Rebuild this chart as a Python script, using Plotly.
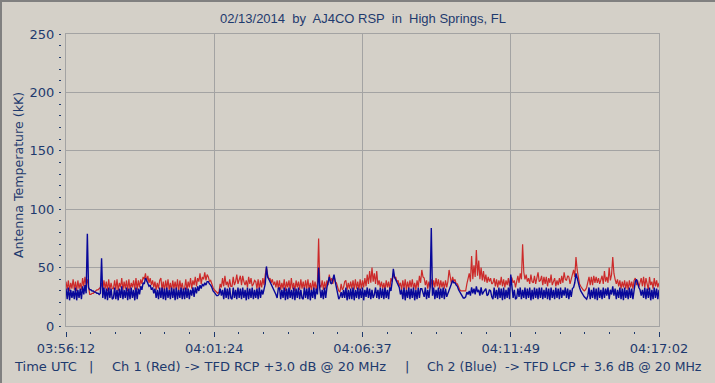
import plotly.graph_objects as go

# ---- data ----
sample_step_s = 2.5
tick_labels = ["03:56:12", "04:01:24", "04:06:37", "04:11:49", "04:17:02"]
tick_seconds = [0, 312.5, 625, 937.5, 1250]

ch1_red = [
    38,31,39,30,37,32,40,31,38,30,39,32,37,31,41,34,42,35,40,33,
    27,27,28,28,29,30,31,31,32,33,37,31,39,32,38,30,40,31,37,32,
    32,39,31,40,30,37,33,41,31,38,32,39,30,40,31,37,33,39,31,41,
    31,39,33,40,36,42,40,45,38,43,37,41,35,39,33,38,31,37,32,39,
    41,31,38,30,39,32,40,31,37,30,39,32,38,31,40,30,39,32,37,31,
    32,40,31,38,33,41,32,39,35,42,34,41,38,45,36,42,40,46,39,44,
    42,38,39,35,33,31,30,29,28,29,36,33,41,34,43,35,38,33,40,34,
    34,42,35,38,44,36,39,43,35,43,38,35,39,33,42,36,41,34,36,39,
    38,32,40,31,39,33,41,35,44,50,44,40,41,37,40,35,38,33,39,32,
    39,31,37,32,40,30,38,33,39,31,41,32,37,30,39,33,38,31,40,32,
    38,31,39,32,40,31,37,30,39,32,38,31,37,75,35,33,39,31,38,32,
    39,35,44,38,41,36,43,38,37,32,30,29,36,31,33,38,39,31,37,32,
    38,32,39,31,40,32,38,31,40,32,39,33,41,34,44,36,47,37,50,38,
    45,36,47,35,39,33,38,32,37,31,39,33,38,31,41,38,45,41,42,38,
    39,34,37,31,39,32,40,31,38,32,39,33,40,32,37,31,39,33,43,37,
    48,42,41,35,39,32,38,33,40,32,39,33,41,34,40,32,39,33,38,32,
    39,33,38,48,41,36,42,38,40,36,36,33,31,30,30,30,30,30,36,41,
    45,38,60,40,52,42,65,43,56,40,50,39,47,38,44,37,42,38,41,36,
    37,41,34,40,33,39,35,42,34,40,33,39,35,41,34,42,41,37,39,33,
    37,43,37,45,40,70,46,40,44,38,41,36,44,38,37,43,36,42,46,38,
    39,43,35,42,36,42,34,41,37,44,35,38,41,34,39,35,41,36,43,37,
    46,40,39,43,42,36,40,44,48,42,59,48,42,36,34,32,31,30,31,33,
    37,42,35,42,35,43,37,42,37,41,36,39,43,36,47,38,42,37,50,39,
    44,59,45,40,36,40,34,39,32,38,33,39,32,38,31,39,33,38,32,39,
    41,35,39,33,37,41,34,42,33,41,36,31,42,35,38,32,41,34,39,33,
    37,
]

ch2_blue = [
    32,23,33,22,31,24,30,23,33,22,31,24,32,23,34,27,35,28,79,33,
    31,31,30,30,29,29,28,28,27,28,58,24,33,23,32,22,33,24,32,23,
    24,33,23,31,22,32,24,34,23,31,24,33,22,32,23,33,24,31,22,33,
    23,32,27,34,31,37,36,41,39,36,34,35,31,33,28,32,24,31,23,33,
    24,33,23,32,22,33,24,31,23,33,24,32,22,33,23,31,24,33,23,32,
    23,33,24,32,23,31,26,33,25,33,28,34,30,35,32,36,34,37,35,38,
    38,36,35,33,30,29,27,26,26,27,32,26,31,23,33,24,32,23,33,24,
    23,33,24,31,23,33,24,32,23,33,24,31,22,33,23,32,24,33,23,31,
    24,32,23,33,24,31,27,33,36,51,42,40,38,36,34,32,30,27,24,32,
    33,23,31,24,33,22,32,23,33,24,31,23,33,22,32,24,33,23,31,24,
    23,33,24,32,23,33,22,31,24,33,23,32,27,50,32,24,31,23,33,24,
    33,38,42,37,36,40,44,38,33,28,23,25,29,24,31,24,33,22,31,23,
    32,23,33,22,31,24,33,23,32,24,33,22,31,25,33,24,32,23,31,24,
    27,33,24,31,23,33,24,32,23,33,24,31,23,33,30,38,49,42,40,37,
    36,33,27,31,23,33,22,31,24,33,23,32,24,33,22,31,23,33,24,32,
    32,27,25,33,23,31,24,33,84,26,33,23,31,24,33,23,32,24,33,23,
    32,25,28,31,33,36,39,37,37,35,34,31,29,27,25,24,24,25,29,27,
    30,26,33,28,32,27,34,29,31,26,33,27,29,31,32,26,27,31,30,25,
    23,33,24,31,23,33,24,32,22,33,23,31,24,33,23,44,32,24,31,23,
    24,32,25,33,23,31,24,33,23,32,24,33,22,31,23,33,24,32,23,33,
    24,33,23,31,24,33,23,32,22,33,24,31,23,33,24,32,23,33,24,31,
    26,33,24,32,23,31,25,32,33,37,45,40,36,33,30,28,27,25,24,23,
    26,33,23,31,24,33,23,32,22,33,24,31,23,33,24,32,26,33,23,31,
    27,34,26,32,23,31,24,33,23,32,22,33,24,31,23,33,24,32,23,32,
    38,40,36,33,31,26,31,24,33,23,32,24,33,22,31,23,33,24,32,23,
    31,
]

t_sec = [i * sample_step_s for i in range(len(ch1_red))]

# ---- style ----
W, H = 715, 383
BG = "#d4d0c8"
GRID = "#a3a3a3"
TXT = "#1e3a6e"
FONT = "DejaVu Sans"

px_l, px_r, px_t, px_b = 66, 659, 34, 326

def fx(px):
    return px / W

def fy(py):
    return (H - py) / H

fig = go.Figure()
fig.add_trace(go.Scatter(x=t_sec, y=ch1_red, mode="lines",
                         line=dict(color="#cc2a2a", width=1.2),
                         hoverinfo="skip", showlegend=False))
fig.add_trace(go.Scatter(x=t_sec, y=ch2_blue, mode="lines",
                         line=dict(color="#08089a", width=1.4),
                         hoverinfo="skip", showlegend=False))
# invisible trace to anchor the tick-only axes
fig.add_trace(go.Scatter(x=t_sec, y=ch2_blue, mode="lines", xaxis="x2", yaxis="y2",
                         line=dict(width=0), opacity=0,
                         hoverinfo="skip", showlegend=False))

fig.update_layout(
    width=W, height=H,
    margin=dict(l=0, r=0, t=0, b=0, autoexpand=False),
    paper_bgcolor=BG, plot_bgcolor=BG,
    font=dict(family=FONT, size=13, color=TXT),
    xaxis=dict(domain=[fx(px_l), fx(px_r)], range=[0, 1250],
               tickmode="array", tickvals=tick_seconds, showticklabels=False,
               ticks="", showgrid=True, gridcolor=GRID, gridwidth=1,
               showline=True, linecolor=GRID, linewidth=1, mirror=True,
               zeroline=False, fixedrange=True),
    yaxis=dict(domain=[fy(px_b), fy(px_t)], range=[0, 250], dtick=50,
               showticklabels=False, ticks="", showgrid=True,
               gridcolor=GRID, gridwidth=1, showline=True, linecolor=GRID,
               linewidth=1, mirror=True, zeroline=False, fixedrange=True),
    xaxis2=dict(overlaying="x", anchor="free", position=fy(331), side="bottom",
                range=[0, 1250], tickmode="array", tickvals=tick_seconds,
                ticktext=tick_labels, ticks="outside", ticklen=5, tickwidth=1,
                tickcolor=TXT, showgrid=False, showline=False, zeroline=False,
                tickfont=dict(family=FONT, size=13, color=TXT),
                minor=dict(tickmode="linear", tick0=0, dtick=312.5 / 6,
                           ticks="outside", ticklen=2, tickcolor=TXT, showgrid=False),
                automargin=False, fixedrange=True),
    yaxis2=dict(overlaying="y", anchor="free", position=fx(61), side="left",
                range=[0, 250], dtick=50, ticks="outside", ticklen=2,
                tickwidth=1, tickcolor=TXT, showgrid=False, showline=False,
                zeroline=False, tickfont=dict(family=FONT, size=13, color=TXT),
                ticklabelstandoff=2,
                minor=dict(dtick=10, ticks="outside", ticklen=2, tickcolor=TXT,
                           showgrid=False),
                automargin=False, fixedrange=True),
    annotations=[
        dict(text="02/13/2014  by  AJ4CO RSP  in  High Springs, FL",
             x=fx(363), y=fy(18), xref="paper", yref="paper", showarrow=False,
             xanchor="center", yanchor="middle",
             font=dict(family="Liberation Sans", size=13, color=TXT)),
        dict(text="Antenna Temperature (kK)", textangle=-90,
             x=fx(19), y=fy(175), xref="paper", yref="paper", showarrow=False,
             xanchor="center", yanchor="middle",
             font=dict(family=FONT, size=12.6, color=TXT)),
        dict(text="Time UTC", x=fx(12), y=fy(366), xref="paper", yref="paper",
             showarrow=False, xanchor="left", yanchor="middle"),
        dict(text="|", x=fx(91), y=fy(366), xref="paper", yref="paper",
             showarrow=False, xanchor="center", yanchor="middle"),
        dict(text="Ch 1 (Red) -> TFD RCP +3.0 dB @ 20 MHz", x=fx(110), y=fy(366),
             xref="paper", yref="paper", showarrow=False, xanchor="left",
             yanchor="middle"),
        dict(text="|", x=fx(407), y=fy(366), xref="paper", yref="paper",
             showarrow=False, xanchor="center", yanchor="middle"),
        dict(text="Ch 2 (Blue)  -> TFD LCP + 3.6 dB @ 20 MHz", x=fx(425), y=fy(366),
             xref="paper", yref="paper", showarrow=False, xanchor="left",
             yanchor="middle", font=dict(size=12.5)),
    ],
    shapes=[
        dict(type="line", xref="paper", yref="paper", x0=0, x1=1, y0=fy(1), y1=fy(1),
             line=dict(color="#808080", width=2)),
        dict(type="line", xref="paper", yref="paper", x0=fx(1), x1=fx(1), y0=0, y1=1,
             line=dict(color="#808080", width=2)),
    ],
)

fig.write_html("out.html",
               config={"displayModeBar": False, "staticPlot": True},
               post_script="document.body.style.margin='0';"
                           "document.body.style.overflow='hidden';")
